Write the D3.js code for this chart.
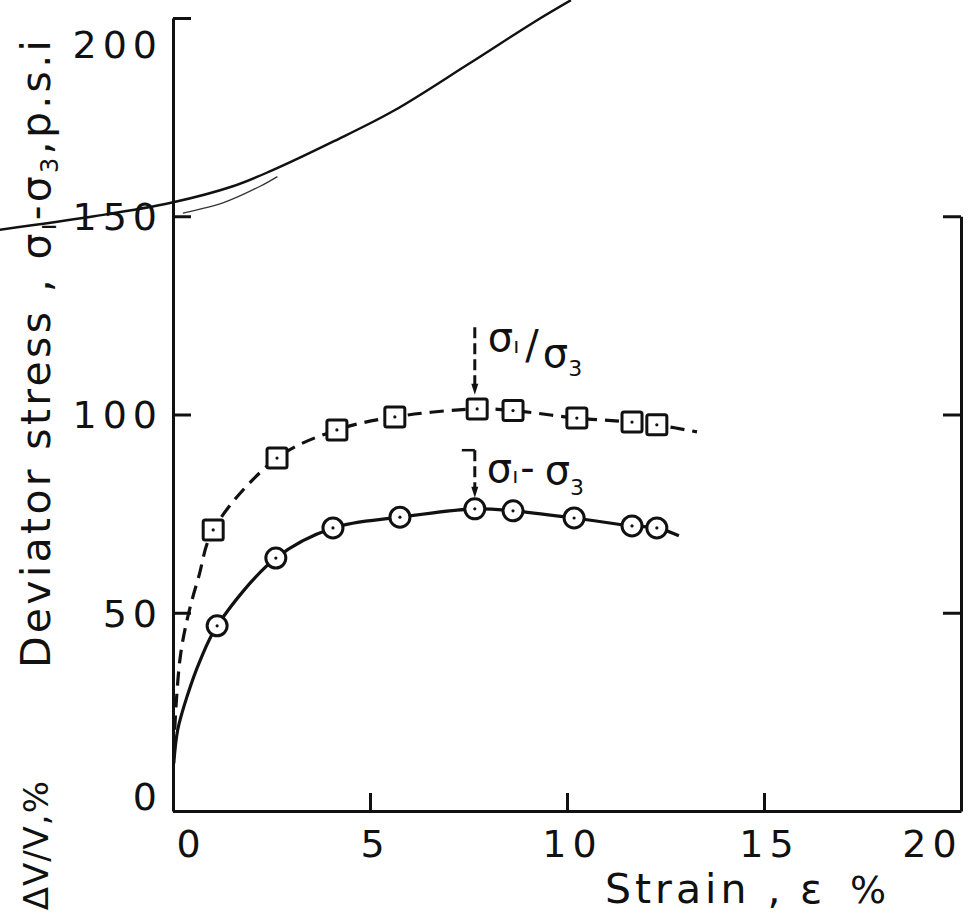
<!DOCTYPE html>
<meta charset="utf-8">
<style>
  body { margin: 0; background: #fff; }
  text { font-family: "DejaVu Sans", sans-serif; fill: #111; }
</style>
<body>
<script src="https://d3js.org/d3.v7.min.js"></script>
<script>
  var xTicks = [0, 5, 10, 15, 20];
  var yTicks = [0, 50, 100, 150, 200];
  var rightTicks = [50, 100, 150];

  // sigma1 - sigma3, circles on the solid curve
  var diffStrain = [1.12, 2.61, 4.06, 5.76, 7.66, 8.63, 10.18, 11.65, 12.28];
  var diffStress = [46.7, 63.8, 71.4, 74.1, 76.2, 75.7, 73.9, 71.9, 71.4];
  // sigma1 / sigma3 (plotted on same axis), squares on the dashed curve
  var ratioStrain = [1.02, 2.64, 4.16, 5.63, 7.72, 8.63, 10.25, 11.65, 12.28];
  var ratioStress = [70.9, 89.0, 96.1, 99.4, 101.4, 101.0, 99.1, 98.1, 97.4];

  // drawn curves (start near origin, run through the points, end past the last one)
  var diffCurveStrain = [0.02, 0.12, 0.36, 0.69, 1.12, 2.61, 4.06, 5.76, 7.66, 8.63, 10.18, 11.65, 12.28, 12.84];
  var diffCurveStress = [12, 20.5, 29, 38, 46.7, 63.8, 71.4, 74.1, 76.2, 75.7, 73.9, 71.9, 71.4, 69.4];
  var ratioCurveStrain = [0.02, 0.08, 0.2, 0.4, 0.65, 1.02, 2.64, 4.16, 5.63, 7.72, 8.63, 10.25, 11.65, 12.28, 13.3];
  var ratioCurveStress = [15, 27, 40, 50, 59, 70.9, 89.0, 96.1, 99.4, 101.4, 101.0, 99.1, 98.1, 97.4, 95.6];

  // curve from the page behind, showing through at the top
  var sheetStrain = [-4.4, -2.0, -0.05, 1.5, 2.5, 4.1, 5.6, 7.5, 9.2, 10.1];
  var sheetStress = [146.6, 150.0, 153.4, 157.5, 161.5, 169.0, 176.6, 188.4, 199.2, 204.5];
  var sheet2Strain = [0.25, 1.3, 2.2, 2.65];
  var sheet2Stress = [150.8, 153.5, 157.5, 160.0];

  // peak markers
  var peakStrain = 7.66;
  var upperArrow = [122, 105];
  var lowerArrow = [91, 79];

  var width = 972, height = 920;

  var x = d3.scaleLinear().domain([0, 20]).range([173, 961]);
  var y = d3.scaleLinear().domain([0, 200]).range([811, 18]);
  var yRight = d3.scaleLinear().domain([0, 150]).range([y(0), y(150)]);

  var svg = d3.select("body").append("svg")
    .attr("width", width)
    .attr("height", height)
    .style("background", "#fff");

  function zip(a, b) {
    return a.map(function (v, i) { return [v, b[i]]; });
  }

  var line = d3.line()
    .x(function (d) { return x(d[0]); })
    .y(function (d) { return y(d[1]); })
    .curve(d3.curveCatmullRom.alpha(0.5));

  // stray curve
  svg.append("path")
    .attr("d", line(zip(sheetStrain, sheetStress)))
    .attr("fill", "none")
    .attr("stroke", "#111")
    .attr("stroke-width", 2.4);
  svg.append("path")
    .attr("d", line(zip(sheet2Strain, sheet2Stress)))
    .attr("fill", "none")
    .attr("stroke", "#333")
    .attr("stroke-width", 1.3);

  // axes
  var leftAxis = svg.append("g")
    .attr("transform", "translate(" + x(0) + ",0)")
    .call(d3.axisLeft(y).tickValues(yTicks).tickSize(-18).tickSizeOuter(0).tickPadding(10));

  var bottomAxis = svg.append("g")
    .attr("transform", "translate(0," + y(0) + ")")
    .call(d3.axisBottom(x).tickValues(xTicks).tickSize(-18).tickSizeOuter(0).tickPadding(19));

  var rightAxis = svg.append("g")
    .attr("transform", "translate(" + x(20) + ",0)")
    .call(d3.axisRight(yRight).tickValues(rightTicks).tickSize(-18).tickSizeOuter(0).tickFormat(""));

  [leftAxis, bottomAxis, rightAxis].forEach(function (g) {
    g.attr("font-family", null).attr("font-size", null);
    g.selectAll("path, line").attr("stroke", "#111").attr("stroke-width", 3);
    g.selectAll("text")
      .style("font-size", "38px")
      .style("letter-spacing", "6px");
  });

  leftAxis.selectAll(".tick text")
    .attr("dy", function (d) { return d === 200 ? "1.05em" : d === 0 ? "-0.05em" : "0.35em"; });
  bottomAxis.selectAll(".tick text")
    .attr("dx", function (d) { return d === 0 ? 18 : d === 20 ? -29 : 5; });

  // curves
  svg.append("path")
    .attr("d", line(zip(ratioCurveStrain, ratioCurveStress)))
    .attr("fill", "none")
    .attr("stroke", "#111")
    .attr("stroke-width", 3.2)
    .attr("stroke-dasharray", "14,8");

  svg.append("path")
    .attr("d", line(zip(diffCurveStrain, diffCurveStress)))
    .attr("fill", "none")
    .attr("stroke", "#111")
    .attr("stroke-width", 3.2);

  // markers
  var sq = svg.append("g").selectAll("g")
    .data(zip(ratioStrain, ratioStress))
    .enter().append("g")
    .attr("transform", function (d) { return "translate(" + x(d[0]) + "," + y(d[1]) + ")"; });
  sq.append("rect")
    .attr("x", -10).attr("y", -10).attr("width", 20).attr("height", 20).attr("rx", 2)
    .attr("fill", "#fff").attr("stroke", "#111").attr("stroke-width", 3);
  sq.append("circle").attr("r", 1.6).attr("fill", "#111");

  var ci = svg.append("g").selectAll("g")
    .data(zip(diffStrain, diffStress))
    .enter().append("g")
    .attr("transform", function (d) { return "translate(" + x(d[0]) + "," + y(d[1]) + ")"; });
  ci.append("circle")
    .attr("r", 10)
    .attr("fill", "#fff").attr("stroke", "#111").attr("stroke-width", 3);
  ci.append("circle").attr("r", 1.6).attr("fill", "#111");

  // peak arrows
  [upperArrow, lowerArrow].forEach(function (a) {
    var px = x(peakStrain), y1 = y(a[0]), y2 = y(a[1]);
    svg.append("line")
      .attr("x1", px).attr("x2", px)
      .attr("y1", y1).attr("y2", y2 - 9)
      .attr("stroke", "#111").attr("stroke-width", 3)
      .attr("stroke-dasharray", "11,5");
    svg.append("path")
      .attr("d", "M" + (px - 3.5) + "," + (y2 - 11) + "L" + (px + 3.5) + "," + (y2 - 11) + "L" + px + "," + y2 + "Z")
      .attr("fill", "#111");
  });
  svg.append("line")
    .attr("x1", x(peakStrain) - 13).attr("x2", x(peakStrain))
    .attr("y1", y(lowerArrow[0])).attr("y2", y(lowerArrow[0]))
    .attr("stroke", "#111").attr("stroke-width", 2.5);

  // curve labels
  var lab1 = svg.append("text")
    .attr("x", x(peakStrain) + 13)
    .attr("y", y(upperArrow[0]) + 24)
    .style("font-size", "40px");
  lab1.append("tspan").text("σ");
  lab1.append("tspan").attr("dy", 2).style("font-size", "22px").text("ı");
  lab1.append("tspan").attr("dx", 6).attr("dy", 6).style("font-size", "40px").text("/");
  lab1.append("tspan").attr("dx", 4).attr("dy", 8).text("σ");
  lab1.append("tspan").attr("dy", 9).style("font-size", "22px").text("3");

  var lab2 = svg.append("text")
    .attr("x", x(peakStrain) + 12)
    .attr("y", y(lowerArrow[0]) + 32)
    .style("font-size", "40px");
  lab2.append("tspan").text("σ");
  lab2.append("tspan").attr("dy", 1).style("font-size", "22px").text("ı");
  lab2.append("tspan").attr("dx", 2).attr("dy", -1).text("-");
  lab2.append("tspan").attr("dx", 10).attr("dy", 2).text("σ");
  lab2.append("tspan").attr("dy", 11).style("font-size", "22px").text("3");

  // axis titles
  var xt = svg.append("text")
    .attr("y", 903)
    .style("font-size", "41px");
  xt.append("tspan").attr("x", 605).style("letter-spacing", "4px").text("Strain ,");
  xt.append("tspan").attr("x", 800).text("ε");
  xt.append("tspan").attr("x", 850).style("font-size", "38px").text("%");

  var yt = svg.append("text")
    .attr("transform", "translate(50,668) rotate(-90)")
    .attr("textLength", 628)
    .attr("lengthAdjust", "spacing")
    .style("font-size", "41px");
  yt.append("tspan").text("Deviator stress , σ");
  yt.append("tspan").attr("dy", 6).style("font-size", "24px").text("ı");
  yt.append("tspan").attr("dy", -6).text("-σ");
  yt.append("tspan").attr("dy", 8).style("font-size", "24px").text("3");
  yt.append("tspan").attr("dy", -8).text(",p.s.i");

  // label of the panel below, partly on the page
  svg.append("text")
    .attr("transform", "translate(48,780) rotate(-90)")
    .attr("text-anchor", "end")
    .style("font-size", "34px")
    .style("letter-spacing", "1px")
    .text("ΔV/V,%");
</script>
</body>
